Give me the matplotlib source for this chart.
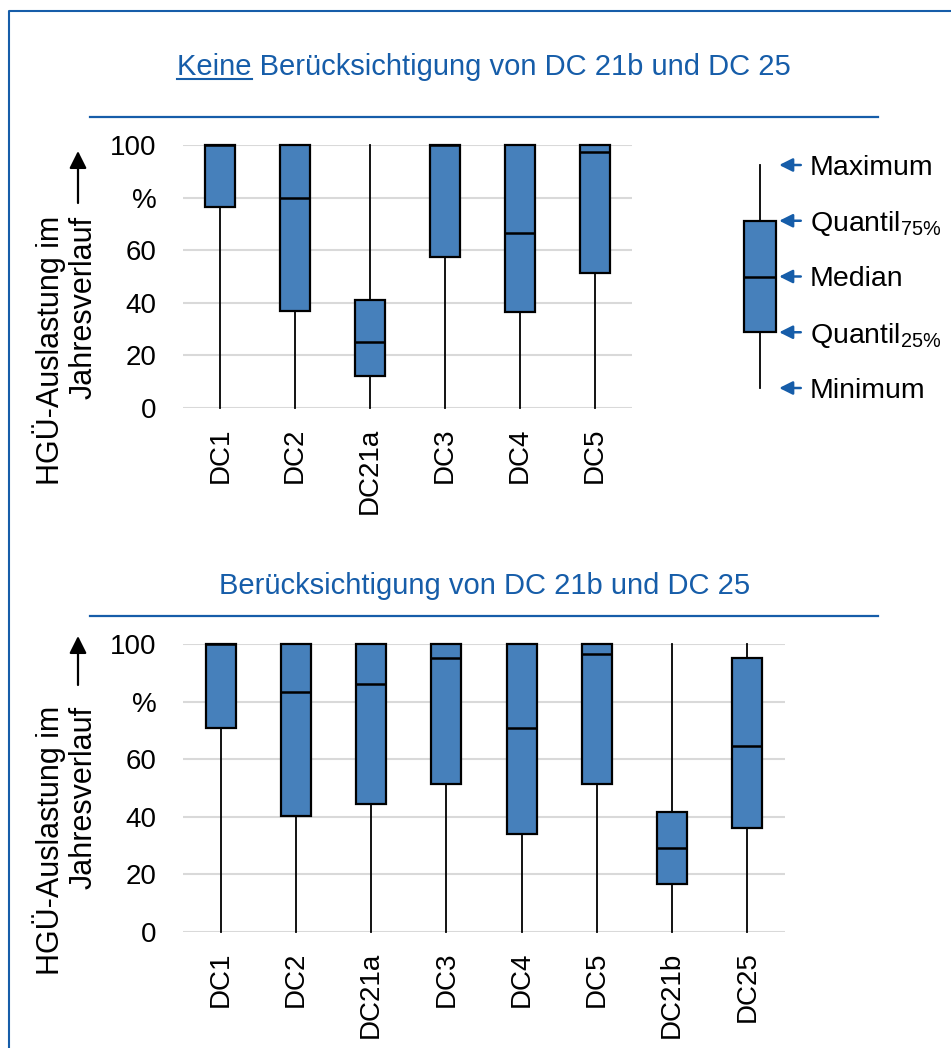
import matplotlib
matplotlib.use('Agg')
import matplotlib.pyplot as plt
from matplotlib.lines import Line2D

plt.rcParams['font.family'] = ['Liberation Sans', 'DejaVu Sans']
plt.rcParams['mathtext.fontset'] = 'custom'
plt.rcParams['mathtext.rm'] = 'Liberation Sans'
plt.rcParams['mathtext.it'] = 'Liberation Sans'

# utilisation of the HVDC links over the year, in percent
labels_top = ['DC1', 'DC2', 'DC21a', 'DC3', 'DC4', 'DC5']
min_top = [0, 0, 0, 0, 0, 0]
q1_top = [76.5, 37, 12, 57.5, 36.5, 51.5]
med_top = [100, 80, 25, 100, 66.5, 97.5]
q3_top = [100, 100, 41, 100, 100, 100]
max_top = [100, 100, 100, 100, 100, 100]

labels_bot = ['DC1', 'DC2', 'DC21a', 'DC3', 'DC4', 'DC5', 'DC21b', 'DC25']
min_bot = [0, 0, 0, 0, 0, 0, 0, 0]
q1_bot = [70.8, 40.2, 44.4, 51.4, 34.0, 51.4, 16.7, 36.0]
med_bot = [100, 83.3, 86.1, 95.1, 70.8, 96.5, 29.2, 64.6]
q3_bot = [100, 100, 100, 100, 100, 100, 41.7, 95.1]
max_bot = [100, 100, 100, 100, 100, 100, 100, 100]

yticks = [0, 20, 40, 60, 80, 100]
ytick_labels = ['0', '20', '40', '60', '%', '100']

# schematic box for the key
key_stats = [0, 25, 50, 75, 100]
key_labels = ['Minimum', 'Quantil$_{\\mathregular{25\\%}}$', 'Median',
              'Quantil$_{\\mathregular{75\\%}}$', 'Maximum']

title_top = 'Keine Berücksichtigung von DC 21b und DC 25'
title_bot = 'Berücksichtigung von DC 21b und DC 25'
ylabel = 'HGÜ-Auslastung im\nJahresverlauf'

blue = '#165DA9'
box_color = '#4680BB'
grid_color = '#D9D9D9'

W, H = 951, 1048
fig = plt.figure(figsize=(W / 100, H / 100), dpi=100)
fig.patch.set_facecolor('white')


def px(x, y):
    # pixel position (from top-left) to figure fraction
    return x / W, 1 - y / H


def make_stats(lo, q1, med, q3, hi):
    return [dict(whislo=a, q1=b, med=c, q3=d, whishi=e)
            for a, b, c, d, e in zip(lo, q1, med, q3, hi)]


def draw_boxes(ax, stats, positions, width):
    ax.bxp(stats, positions=positions, widths=width, patch_artist=True,
           showcaps=False, showfliers=False,
           boxprops=dict(facecolor=box_color, edgecolor='black', linewidth=1.6),
           medianprops=dict(color='black', linewidth=1.8),
           whiskerprops=dict(color='black', linewidth=1.3),
           zorder=3)
    for art in ax.get_children():
        if hasattr(art, 'set_clip_on'):
            art.set_clip_on(False)


def style_axes(ax, labels):
    ax.set_ylim(0, 100)
    ax.set_xlim(-0.5, len(labels) - 0.5)
    ax.set_yticks(yticks)
    ax.set_yticklabels(ytick_labels)
    ax.set_xticks(range(len(labels)))
    ax.set_xticklabels(labels, rotation=90, va='top')
    ax.tick_params(axis='both', length=0, labelsize=20)
    ax.tick_params(axis='y', pad=19)
    ax.tick_params(axis='x', pad=14)
    for s in ax.spines.values():
        s.set_visible(False)
    ax.yaxis.grid(True, color=grid_color, linewidth=1.5, zorder=0)
    ax.set_axisbelow(True)
    ax.patch.set_alpha(0)


# upper chart
l, b = px(183, 408)
ax1 = fig.add_axes([l, b, 449 / W, 263 / H])
draw_boxes(ax1, make_stats(min_top, q1_top, med_top, q3_top, max_top),
           range(len(labels_top)), 0.4)
style_axes(ax1, labels_top)

# lower chart
l, b = px(183, 932)
ax2 = fig.add_axes([l, b, 602 / W, 288 / H])
draw_boxes(ax2, make_stats(min_bot, q1_bot, med_bot, q3_bot, max_bot),
           range(len(labels_bot)), 0.4)
style_axes(ax2, labels_bot)

# key
l, b = px(730, 388)
axk = fig.add_axes([l, b, 60 / W, 223 / H])
draw_boxes(axk, make_stats(*[[v] for v in key_stats]), [0.5], 0.52)
axk.set_xlim(0, 1)
axk.set_ylim(0, 100)
axk.axis('off')
for v, lab in zip(key_stats, key_labels):
    axk.annotate('', xy=(0.82, v), xytext=(1.18, v),
                 arrowprops=dict(arrowstyle='-|>', color=blue, lw=1.8,
                                 mutation_scale=20, shrinkA=0, shrinkB=0),
                 annotation_clip=False)
    axk.text(1.33, v - 1.3, lab, fontsize=20.5, va='center', ha='left',
             clip_on=False)

# axis titles with the upward arrow
for top, arr0, arr1 in [(216, 203, 151), (706, 685, 636)]:
    fig.text(*px(65, top), ylabel, rotation=90, ha='center', va='top',
             multialignment='right', fontsize=22, linespacing=1.12)
    fig.add_artist(plt.Annotation('', xy=px(78, arr1), xytext=px(78, arr0),
                                  xycoords='figure fraction',
                                  arrowprops=dict(arrowstyle='-|>', color='black',
                                                  lw=1.6, mutation_scale=26,
                                                  shrinkA=0, shrinkB=0)))

# panel titles and rules
t1 = fig.text(*px(484, 75), title_top, ha='center', va='baseline',
              fontsize=21, color=blue)
t2 = fig.text(*px(485, 594), title_bot, ha='center', va='baseline',
              fontsize=21, color=blue)
for y in (117, 616):
    x0, yy = px(90, y)
    x1, _ = px(878, y)
    fig.add_artist(Line2D([x0, x1], [yy, yy], color=blue, lw=1.6))

# underline the word "Keine"
fig.canvas.draw()
r = fig.canvas.get_renderer()
bb = t1.get_window_extent(r)
tmp = fig.text(0, 0, 'Keine', fontsize=21)
kw = tmp.get_window_extent(r).width
tmp.remove()
ux0 = bb.x0 / W
ux1 = (bb.x0 + kw) / W
uy = 1 - 79 / H
fig.add_artist(Line2D([ux0, ux1], [uy, uy], color=blue, lw=1.5))

# outer frame (top and left edges)
fx, fy = px(9, 11)
fig.add_artist(Line2D([fx, fx, 1.01], [-0.01, fy, fy], color=blue, lw=1.5))

fig.savefig('out.png', dpi=100, facecolor='white')
